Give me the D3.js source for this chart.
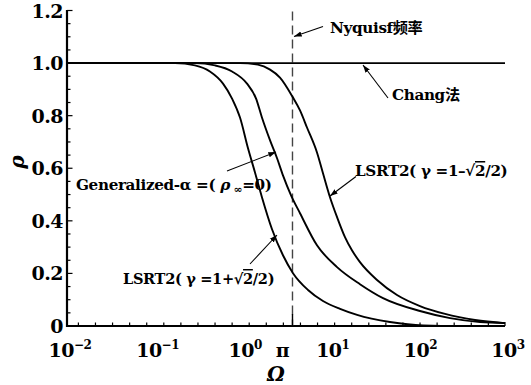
<!DOCTYPE html>
<html><head><meta charset="utf-8">
<script src="https://cdn.jsdelivr.net/npm/d3@7"></script>
<style>body{margin:0;background:#fff} svg{display:block}</style>
</head><body>
<svg id="c" width="531" height="385"></svg>
<script>
// ---------- data ----------
// LSRT2 (gamma = 1 + sqrt2/2)  – leftmost curve
const omegaA = [0.01, 0.171, 0.289, 0.428, 0.604, 0.766, 0.944, 1.165, 1.40, 1.68, 2.19, 2.92, 3.80, 5.64, 8.36, 13.1, 20.5, 48.6, 116, 306, 1000];
const rhoA   = [1.0, 1.0, 0.991, 0.968, 0.922, 0.865, 0.793, 0.676, 0.584, 0.490, 0.368, 0.269, 0.201, 0.137, 0.095, 0.065, 0.042, 0.015, 0.002, 0.0, 0.0];
// Generalized-alpha (rho_inf = 0) – middle curve
const omegaB = [0.01, 0.289, 0.489, 0.766, 1.135, 1.44, 1.68, 2.08, 2.50, 2.92, 3.61, 4.57, 7.14, 12.1, 22.1, 40.5, 107, 236, 519, 1000];
const rhoB   = [1.0, 1.0, 0.991, 0.968, 0.922, 0.865, 0.793, 0.706, 0.638, 0.573, 0.497, 0.429, 0.307, 0.224, 0.159, 0.106, 0.057, 0.030, 0.015, 0.011];
// LSRT2 (gamma = 1 - sqrt2/2) – rightmost curve
const omegaC = [0.01, 0.944, 1.51, 2.08, 2.70, 3.80, 4.57, 5.49, 7.14, 8.36, 10.05, 12.1, 14.9, 17.9, 22.1, 34.6, 58.5, 107, 207, 455, 1000];
const rhoC   = [1.0, 1.0, 0.994, 0.975, 0.945, 0.869, 0.820, 0.755, 0.660, 0.581, 0.490, 0.414, 0.338, 0.288, 0.243, 0.175, 0.118, 0.076, 0.046, 0.023, 0.011];
// Chang method – constant
const omegaChang = [0.01, 1000];
const rhoChang   = [1.0, 1.0];
// Nyquist line position (as drawn in the picture)
const nyquistOmega = 3.75;

// tick labels
const xDecades   = [0.01, 0.1, 1, 10, 100, 1000];
const xExponents = ["\u22122", "\u22121", "0", "1", "2", "3"];
const piValue    = Math.PI;
const yTicks     = [0, 0.2, 0.4, 0.6, 0.8, 1.0, 1.2];
const yTickLabels= ["0", "0.2", "0.4", "0.6", "0.8", "1.0", "1.2"];

// ---------- drawing ----------
const svg = d3.select("#c");
const FONT = "DejaVu Serif, Liberation Serif, Noto Sans CJK SC, serif";
const x = d3.scaleLog().domain([0.01, 1000]).range([67, 505]);
const y = d3.scaleLinear().domain([0, 1.2]).range([326, 10.5]);

// minor x ticks (evenly spaced in log, as in the picture)
const xMinor = d3.range(25).map(k => Math.pow(10, -1.87 + 0.195 * k));
svg.append("g").selectAll("line").data(xMinor).join("line")
  .attr("x1", d => x(d)).attr("x2", d => x(d))
  .attr("y1", y(0)).attr("y2", y(0) - 3.5)
  .attr("stroke", "#000").attr("stroke-width", 1.2);

// y ticks
const yMinor = d3.range(0, 1.2001, 0.05);
svg.append("g").selectAll("line").data(yMinor).join("line")
  .attr("x1", x(0.01)).attr("x2", d => x(0.01) + (Math.abs(d * 5 - Math.round(d * 5)) < 1e-6 ? 5.5 : 3.5))
  .attr("y1", d => y(d)).attr("y2", d => y(d))
  .attr("stroke", "#000").attr("stroke-width", 1.2);

// axes lines
svg.append("line").attr("x1", x(0.01)).attr("x2", x(0.01)).attr("y1", y(1.2) - 0.5).attr("y2", y(0) + 1)
  .attr("stroke", "#000").attr("stroke-width", 2.2);
svg.append("line").attr("x1", x(0.01) - 1).attr("x2", x(1000)).attr("y1", y(0)).attr("y2", y(0))
  .attr("stroke", "#000").attr("stroke-width", 2.2);
svg.append("line").attr("x1", x(1000)).attr("x2", x(1000)).attr("y1", y(0)).attr("y2", y(0) - 4)
  .attr("stroke", "#000").attr("stroke-width", 1.2);

// y tick labels
svg.append("g").selectAll("text").data(yTicks).join("text")
  .attr("x", 63).attr("y", d => y(d)).attr("dy", "0.37em")
  .attr("text-anchor", "end").attr("font-family", FONT).attr("font-weight", "bold").attr("font-size", 19)
  .attr("letter-spacing", -0.5)
  .text((d, i) => yTickLabels[i]);

// x tick labels: 10^n
const xl = svg.append("g").selectAll("text").data(xDecades).join("text")
  .attr("x", d => x(d) + 3).attr("y", 357)
  .attr("text-anchor", "middle").attr("font-family", FONT).attr("font-weight", "bold").attr("font-size", 19)
  .attr("letter-spacing", -0.5);
xl.append("tspan").text("10");
xl.append("tspan").attr("dy", -8).attr("font-size", 12).text((d, i) => xExponents[i]);
svg.append("text").attr("x", x(piValue) - 3).attr("y", 357).attr("text-anchor", "middle")
  .attr("font-family", FONT).attr("font-weight", "bold").attr("font-size", 19).text("\u03c0");

// axis titles
svg.append("text").attr("x", 276).attr("y", 381).attr("text-anchor", "middle")
  .attr("font-family", FONT).attr("font-weight", "bold").attr("font-style", "italic").attr("font-size", 20).text("\u03a9");
svg.append("text").attr("transform", "translate(24,162) rotate(-90)").attr("text-anchor", "middle")
  .attr("font-family", FONT).attr("font-weight", "bold").attr("font-style", "italic").attr("font-size", 20).text("\u03c1");

// Nyquist dashed line
svg.append("line").attr("x1", x(nyquistOmega)).attr("x2", x(nyquistOmega))
  .attr("y1", y(1.2) + 1).attr("y2", y(0))
  .attr("stroke", "#444").attr("stroke-width", 1.4).attr("stroke-dasharray", "9,5");
svg.append("line").attr("x1", x(nyquistOmega)).attr("x2", x(nyquistOmega))
  .attr("y1", y(0) - 12).attr("y2", y(0)).attr("stroke", "#000").attr("stroke-width", 1.4);

// curves
const line = d3.line().curve(d3.curveMonotoneX).x(d => x(d[0])).y(d => y(d[1]));
const series = [
  [omegaChang, rhoChang],
  [omegaA, rhoA],
  [omegaB, rhoB],
  [omegaC, rhoC]
];
svg.append("g").selectAll("path").data(series).join("path")
  .attr("d", s => line(s[0].map((o, i) => [o, s[1][i]])))
  .attr("fill", "none").attr("stroke", "#000").attr("stroke-width", 1.9);

// arrows
const defs = svg.append("defs");
defs.append("marker").attr("id", "ah").attr("viewBox", "0 0 10 10").attr("refX", 10).attr("refY", 5)
  .attr("markerWidth", 7).attr("markerHeight", 7).attr("orient", "auto-start-reverse")
  .append("path").attr("d", "M0,1.5 L10,5 L0,8.5 Z").attr("fill", "#000");
const arrows = [
  [323, 26.5, 294, 36.5],
  [388, 98, 363, 65],
  [227, 171, 276, 152],
  [356, 176.5, 330, 196],
  [250, 264, 277, 235]
];
svg.append("g").selectAll("line").data(arrows).join("line")
  .attr("x1", d => d[0]).attr("y1", d => d[1]).attr("x2", d => d[2]).attr("y2", d => d[3])
  .attr("stroke", "#000").attr("stroke-width", 1.1).attr("marker-end", "url(#ah)");

// annotation texts
function label(xp, yp) {
  return svg.append("text").attr("x", xp).attr("y", yp)
    .attr("font-family", FONT).attr("font-weight", "bold").attr("font-size", 15.2).attr("letter-spacing", -0.35);
}
label(330, 33).text("Nyquisf\u9891\u7387");
label(392, 100).text("Chang\u6cd5");
{
  const t = label(76, 190);
  t.append("tspan").text("Generalized-\u03b1 =( ");
  t.append("tspan").attr("font-style", "italic").text("\u03c1");
  t.append("tspan").attr("font-size", 11).attr("dy", 3).text(" \u221e");
  t.append("tspan").attr("dy", -3).text("=0)");
}
{
  const t = label(355, 176);
  t.append("tspan").text("LSRT2( \u03b3 =1\u2013\u221a");
  t.append("tspan").style("text-decoration", "overline").text("2");
  t.append("tspan").text("/2)");
}
{
  const t = label(123, 284).attr("font-size", 14.6);
  t.append("tspan").text("LSRT2( \u03b3 =1+\u221a");
  t.append("tspan").style("text-decoration", "overline").text("2");
  t.append("tspan").text("/2)");
}
</script>
</body></html>
